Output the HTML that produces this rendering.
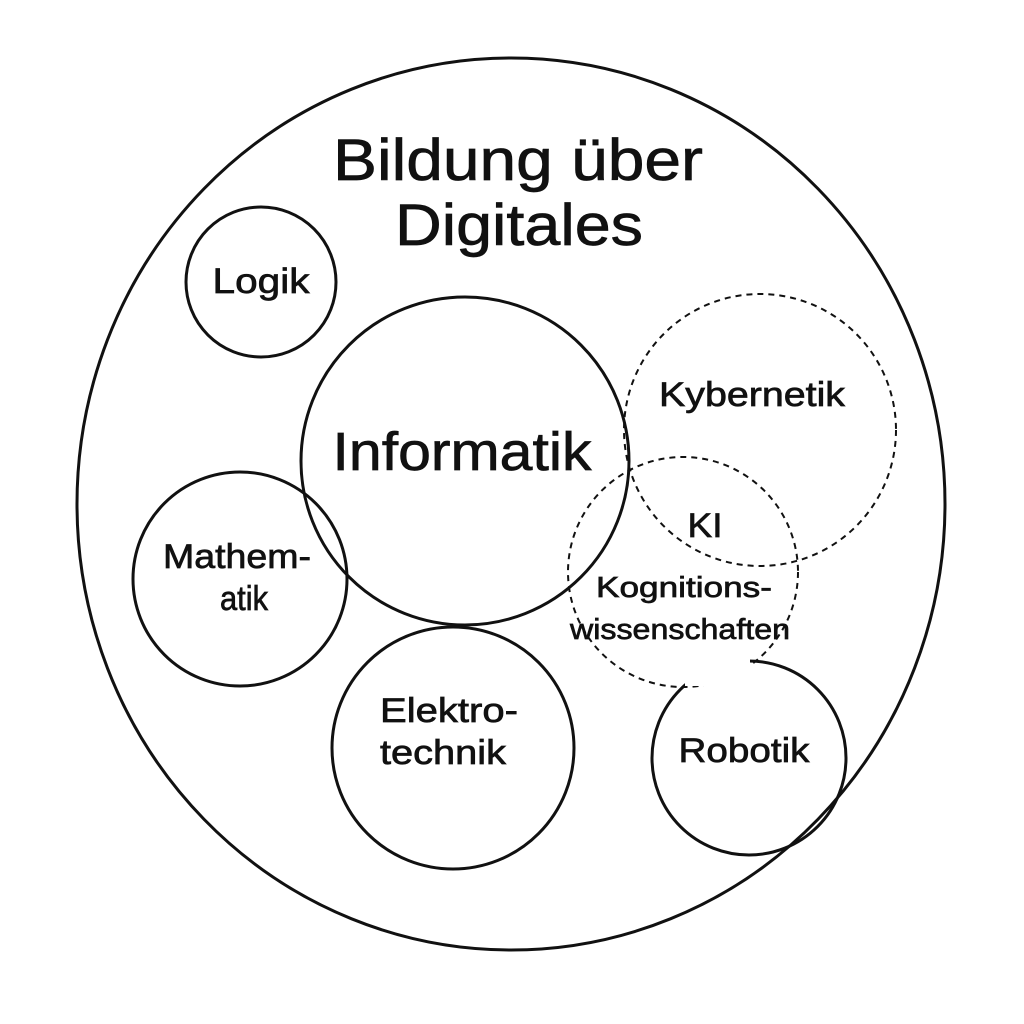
<!DOCTYPE html>
<html><head><meta charset="utf-8"><style>
html,body{margin:0;padding:0;background:#fff}
svg{display:block}
text{font-family:"Liberation Sans","DejaVu Sans",sans-serif;fill:#111;text-anchor:middle;stroke:#111;stroke-width:0.7}
</style></head><body>
<svg width="1024" height="1024" viewBox="0 0 1024 1024">
<g fill="none" stroke="#111" stroke-width="3">
<ellipse cx="511" cy="504" rx="434" ry="446"/>
<circle cx="261" cy="282" r="75"/>
<circle cx="465" cy="461" r="164"/>
<circle cx="240" cy="579" r="107"/>
<circle cx="453" cy="748" r="121"/>
<circle cx="749" cy="758" r="97"/>
<circle cx="760" cy="430" r="136" stroke-width="2" stroke-dasharray="6 5"/>
<circle cx="683" cy="572" r="115" stroke-width="2" stroke-dasharray="6 5"/>
</g>
<rect x="685" y="648" width="65" height="38" fill="#fff"/>
<text x="518" y="180" font-size="58" textLength="370" lengthAdjust="spacingAndGlyphs">Bildung über</text>
<text x="519" y="245" font-size="58" textLength="248" lengthAdjust="spacingAndGlyphs">Digitales</text>
<text x="261" y="293" font-size="35" textLength="97" lengthAdjust="spacingAndGlyphs">Logik</text>
<text x="462" y="470" font-size="54" textLength="259" lengthAdjust="spacingAndGlyphs">Informatik</text>
<text x="237" y="568" font-size="34" textLength="148" lengthAdjust="spacingAndGlyphs">Mathem-</text>
<text x="244" y="610" font-size="34" textLength="48" lengthAdjust="spacingAndGlyphs">atik</text>
<text x="449" y="722" font-size="34" textLength="138" lengthAdjust="spacingAndGlyphs">Elektro-</text>
<text x="443" y="764" font-size="34" textLength="126" lengthAdjust="spacingAndGlyphs">technik</text>
<text x="744" y="762" font-size="34" textLength="131" lengthAdjust="spacingAndGlyphs">Robotik</text>
<text x="752" y="406" font-size="34" textLength="186" lengthAdjust="spacingAndGlyphs">Kybernetik</text>
<text x="705" y="537" font-size="34" textLength="35" lengthAdjust="spacingAndGlyphs">KI</text>
<text x="684" y="597" font-size="29" textLength="176" lengthAdjust="spacingAndGlyphs">Kognitions-</text>
<text x="680" y="639" font-size="29" textLength="220" lengthAdjust="spacingAndGlyphs">wissenschaften</text>
</svg>
</body></html>
